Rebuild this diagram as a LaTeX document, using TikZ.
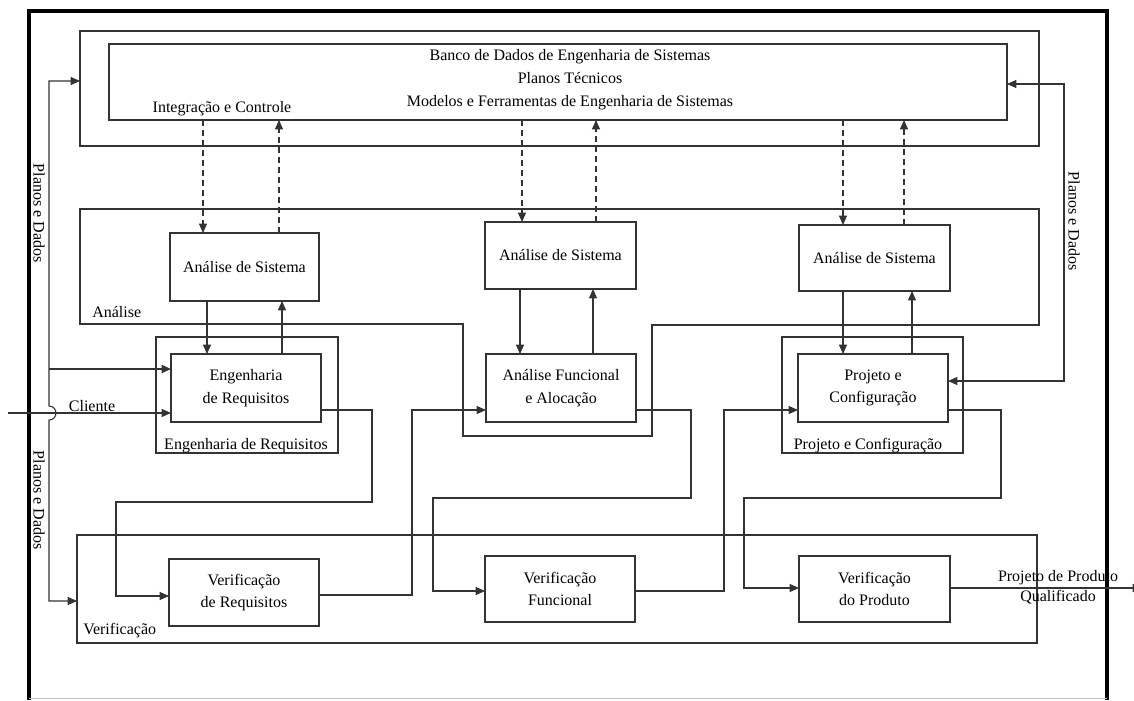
\documentclass[tikz,border=0pt]{standalone}
\usepackage{fontspec}
\setmainfont{Liberation Serif}
\usetikzlibrary{arrows.meta,calc}
\tikzset{
 ln/.style={draw=black!80, line width=0.8pt},
 box/.style={ln, rectangle, inner sep=0pt, outer sep=0pt, align=center, font=\fontsize{12}{17}\selectfont},
 cont/.style={ln, rectangle, inner sep=0pt, outer sep=0pt},
 lbl/.style={inner sep=0pt, font=\fontsize{12}{14}\selectfont},
 tip/.tip={Triangle[length=7pt,width=6pt]},
 arr/.style={ln, -tip},
 darr/.style={arr, dash pattern=on 4.5pt off 3pt},
 frameline/.style={draw=black, line width=3pt},
}
\newcommand\bx[7][box]{\node[#1, minimum width={(#5-#3)*0.75pt}, minimum height={(#6-#4)*0.75pt}] (#2) at ({(#3+#5)/2},{(#4+#6)/2}) {#7};}
\begin{document}
\begin{tikzpicture}[x=0.75pt,y=-0.75pt]
\useasboundingbox (0,0) rectangle (1134,700);
% frame
\draw[frameline] (28.5,700) -- (28.5,10.5) -- (1106.5,10.5) -- (1106.5,700);
\draw[black!25, line width=0.8pt] (28.5,698.5) -- (1106.5,698.5);
% database
\bx[cont]{dbo}{80}{31}{1039}{146}{}
\bx{dbi}{109}{44}{1007}{120}{}
\node[lbl, align=center, font=\fontsize{12}{17.25}\selectfont] (dbt) at (570,80) {Banco de Dados de Engenharia de Sistemas\\Planos Técnicos\\Modelos e Ferramentas de Engenharia de Sistemas};
\node[lbl] (ic) at (222,109) {Integração e Controle};
% analysis container
\draw[ln] (80,209) -- (1039,209) -- (1039,325) -- (652,325) -- (652,436) -- (463,436) -- (463,324) -- (80,324) -- cycle;
\node[lbl, anchor=west] (anl) at (92,312) {Análise};
\bx{as1}{170}{233}{319}{301}{Análise de Sistema}
\bx{as2}{485}{222}{636}{289}{Análise de Sistema}
\bx{as3}{799}{225}{950}{291}{Análise de Sistema}
% design boxes
\bx[cont]{erc}{156}{337}{338}{453}{}
\node[lbl] (ercl) at (246,446) {Engenharia de Requisitos};
\bx{er}{171}{354}{321}{422}{Engenharia\\de Requisitos}
\bx{af}{486}{354}{636}{422}{Análise Funcional\\e Alocação}
\bx[cont]{pcc}{782}{337}{963}{453}{}
\node[lbl] (pccl) at (868,446) {Projeto e Configuração};
\bx{pc}{798}{354}{948}{422}{Projeto e\\Configuração}
% verification
\bx[cont]{vc}{77}{535}{1037}{643}{}
\node[lbl, anchor=west] (vcl) at (83,631) {Verificação};
\bx{vr}{169}{559}{319}{626}{Verificação\\de Requisitos}
\bx{vf}{485}{556}{635}{622}{Verificação\\Funcional}
\bx{vp}{799}{556}{950}{622}{Verificação\\do Produto}
% dashed arrows
\draw[darr] (dbi.south -| 203,0) -- (as1.north -| 203,0);
\draw[darr] (as1.north -| 279,0) -- (dbi.south -| 279,0);
\draw[darr] (dbi.south -| 522,0) -- (as2.north -| 522,0);
\draw[darr] (as2.north -| 596,0) -- (dbi.south -| 596,0);
\draw[darr] (dbi.south -| 843,0) -- (as3.north -| 843,0);
\draw[darr] (as3.north -| 904,0) -- (dbi.south -| 904,0);
% solid vertical arrows
\draw[arr] (as1.south -| 207,0) -- (er.north -| 207,0);
\draw[arr] (er.north -| 282,0) -- (as1.south -| 282,0);
\draw[arr] (as2.south -| 520,0) -- (af.north -| 520,0);
\draw[arr] (af.north -| 593,0) -- (as2.south -| 593,0);
\draw[arr] (as3.south -| 843,0) -- (pc.north -| 843,0);
\draw[arr] (pc.north -| 912,0) -- (as3.south -| 912,0);
% flow connectors
\draw[arr] (er.east |- 0,410) -- (372,410) -- (372,502) -- (116,502) -- (116,596) -- (vr.west |- 0,596);
\draw[arr] (vr.east |- 0,595) -- (412,595) -- (412,410) -- (af.west |- 0,410);
\draw[arr] (af.east |- 0,410) -- (691,410) -- (691,498) -- (433,498) -- (433,591) -- (vf.west |- 0,591);
\draw[arr] (vf.east |- 0,591) -- (724,591) -- (724,410) -- (pc.west |- 0,410);
\draw[arr] (pc.east |- 0,410) -- (1001,410) -- (1001,498) -- (744,498) -- (744,588) -- (vp.west |- 0,588);
\coordinate (out) at (1142,588);
\draw[arr] (vp.east |- 0,588) -- (out);
\node[lbl, align=center, font=\fontsize{12}{15}\selectfont] (outl) at (1058,587) {Projeto de Produto\\Qualificado};
% left plans and data
\draw[ln, tip-tip] (dbo.west |- 0,81) -- (49,81) -- (49,406) to[out=0,in=0,looseness=1.7] (49,420) -- (49,601) -- (vc.west |- 0,601);
\coordinate (br) at (49,369);
\draw[arr, line width=1.3pt] (br) -- (er.west |- 0,369);
\coordinate (cli) at (8,413);
\draw[arr] (cli) -- (er.west |- 0,413);
\node[lbl] (clil) at (92,406) {Cliente};
\node[lbl, rotate=-90] (pd1) at (39,213) {Planos e Dados};
\node[lbl, rotate=-90] (pd2) at (39,500) {Planos e Dados};
% right plans and data
\draw[ln, tip-tip] (dbi.east |- 0,84) -- (1064,84) -- (1064,381) -- (pc.east |- 0,381);
\node[lbl, rotate=-90] (pd3) at (1074,221) {Planos e Dados};
\end{tikzpicture}
\end{document}
